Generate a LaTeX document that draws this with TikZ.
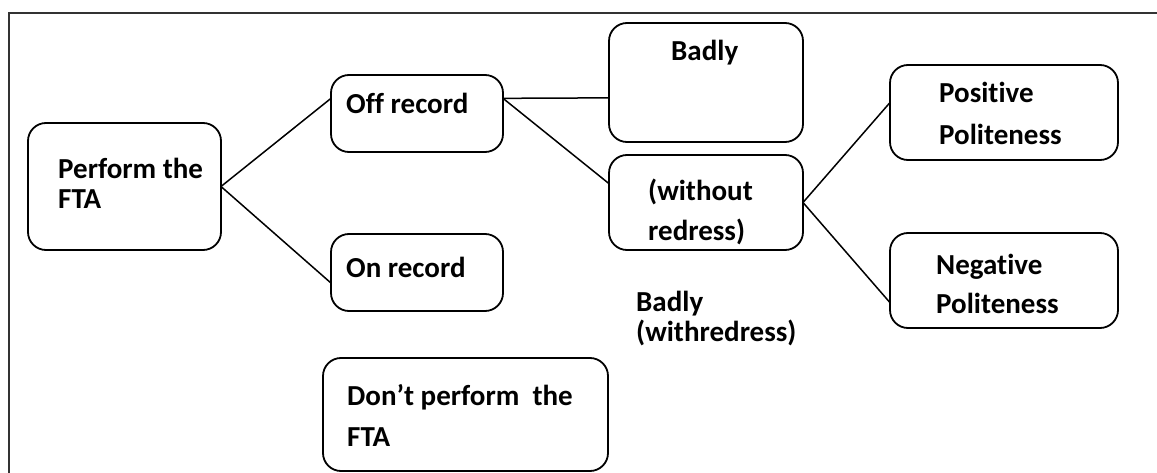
\documentclass[tikz,border=0pt]{standalone}
\usepackage{fontspec}
\setmainfont{Carlito}[Ligatures=CommonOff]

\tikzset{
  box/.style={draw, line width=1.8pt, rounded corners=18pt, inner sep=0pt, outer sep=0pt, anchor=north west},
  lbl/.style={anchor=base west, align=left, inner sep=0pt, font=\bfseries\fontsize{29}{30}\selectfont},
}

\begin{document}
\begin{tikzpicture}[x=1pt,y=-1pt]
	\clip (0,0) rectangle (1157,473);
	\draw[line width=2pt, black!80] (9,13) rectangle (1200,520);
	% the boxes
	\node[box, minimum width=193pt, minimum height=127pt] (perform) at (28,123) {};
	\node[box, minimum width=172pt, minimum height=77pt] (offrec) at (331,75) {};
	\node[box, minimum width=172pt, minimum height=77pt] (onrec) at (331,234) {};
	\node[box, minimum width=194pt, minimum height=119pt] (badly) at (609,23) {};
	\node[box, minimum width=194pt, minimum height=95pt] (without) at (609,155) {};
	\node[box, minimum width=228pt, minimum height=95pt] (positive) at (890,65) {};
	\node[box, minimum width=228pt, minimum height=95pt] (negative) at (890,233) {};
	\node[box, minimum width=285pt, minimum height=113pt] (dont) at (323,358) {};
	% texts (base = last line)
	\node[lbl] (performtxt) at (58,209) {Perform the\\FTA};
	\node[lbl] (offtxt) at (346,114) {Off record};
	\node[lbl] (ontxt) at (346,277) {On record};
	\node[lbl] (badlytxt) at (671,61) {Badly};
	\node[lbl] (withouttxt) at (648,241) {(without\\[10pt]redress)};
	\node[lbl] (positivetxt) at (939,145) {Positive\\[12pt]Politeness};
	\node[lbl] (negativetxt) at (936,313) {Negative\\[9pt]Politeness};
	\node[lbl] (withtxt) at (636,341) {Badly\\[-1pt](withredress)};
	\node[lbl] (donttxt) at (347,446) {Don’t perform\ \ the\\[11pt]FTA};
	% branches
	\foreach \a/\b in {perform.east/offrec.170, perform.east/onrec.187, offrec.10/badly.189, offrec.10/without.169, without.east/positive.175, without.east/negative.191}
		\draw[line width=1.5pt] (\a) -- (\b);
\end{tikzpicture}
\end{document}
